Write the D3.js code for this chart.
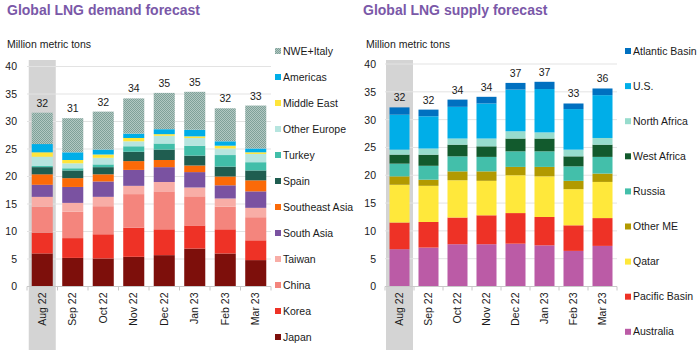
<!DOCTYPE html>
<html>
<head>
<meta charset="utf-8">
<script src="https://cdn.jsdelivr.net/npm/d3@7"></script>
<style>
  body { margin: 0; background: #fff; }
  svg { font-family: "Liberation Sans", Arial, sans-serif; }
</style>
</head>
<body>
<div id="container"></div>
<script>
/* DATA */
const months = ["Aug 22", "Sep 22", "Oct 22", "Nov 22", "Dec 22", "Jan 23", "Feb 23", "Mar 23"];
const yTicks = [0, 5, 10, 15, 20, 25, 30, 35, 40];

// demand series, bottom of stack first
const demandKeys = ["Japan", "Korea", "China", "Taiwan", "South Asia", "Southeast Asia",
  "Spain", "Turkey", "Other Europe", "Middle East", "Americas", "NWE+Italy"];
const japan       = [6.0, 5.2, 5.1, 5.4, 5.7, 6.9, 6.0, 4.8];
const korea       = [3.8, 3.6, 4.4, 5.3, 4.7, 4.2, 4.4, 3.6];
const china       = [4.7, 4.8, 5.1, 6.1, 6.9, 5.3, 4.1, 4.2];
const taiwan      = [1.8, 1.6, 1.7, 1.5, 1.7, 1.6, 1.5, 1.7];
const southAsia   = [2.2, 2.9, 2.8, 2.9, 2.7, 2.8, 2.4, 3.0];
const seAsia      = [1.9, 1.6, 1.3, 1.6, 1.3, 1.2, 1.6, 2.0];
const spain       = [1.3, 1.4, 1.3, 1.7, 1.9, 1.8, 1.8, 1.8];
const turkey      = [0.2, 0.4, 0.5, 1.0, 1.1, 1.8, 2.1, 1.5];
const otherEurope = [1.7, 0.9, 1.2, 0.9, 1.4, 1.4, 1.2, 1.5];
const middleEast  = [0.8, 0.6, 0.6, 0.6, 0.3, 0.3, 0.5, 0.3];
const americas    = [1.5, 1.4, 0.9, 0.8, 0.9, 1.2, 0.8, 0.7];
const nweItaly    = [5.7, 6.2, 6.9, 6.4, 6.6, 6.9, 6.0, 7.8];

// supply series, bottom of stack first
const supplyKeys = ["Australia", "Pacific Basin", "Qatar", "Other ME", "Russia",
  "West Africa", "North Africa", "U.S.", "Atlantic Basin"];
const australia     = [6.7, 7.0, 7.6, 7.6, 7.7, 7.4, 6.4, 7.3];
const pacificBasin  = [4.8, 4.6, 4.8, 5.2, 5.5, 5.1, 4.6, 5.0];
const qatar         = [6.8, 6.5, 6.7, 6.2, 6.8, 7.3, 6.5, 6.5];
const otherME       = [1.5, 1.1, 1.6, 1.7, 1.5, 1.7, 1.5, 1.5];
const russia        = [2.3, 2.5, 2.7, 2.6, 2.8, 2.8, 2.6, 3.0];
const westAfrica    = [1.6, 2.0, 2.1, 1.9, 2.3, 2.3, 1.8, 2.2];
const northAfrica   = [0.9, 1.1, 1.1, 1.4, 1.3, 1.1, 1.2, 1.2];
const us            = [6.3, 5.8, 5.7, 6.3, 7.5, 7.8, 7.3, 7.7];
const atlanticBasin = [1.3, 1.2, 1.3, 1.2, 1.2, 1.3, 1.0, 1.2];

/* CONSTANTS */
const width = 700, height = 350;

const demandColors = ["#7d0f0b", "#ee3226", "#f4857d", "#f8ada6", "#7a52a1", "#fb6a08",
  "#1f5d50", "#41bea9", "#b6e5df", "#ffe53b", "#00aee8", "url(#hatch)"];
const supplyColors = ["#bb5ba6", "#ee3226", "#ffe83b", "#b29a00", "#43bfaa",
  "#125a2d", "#97dccd", "#00aee8", "#0070c0"];

const svg = d3.select("#container")
  .append("svg")
  .attr("width", width)
  .attr("height", height)

// fine checker fill for NWE+Italy
const pat = svg.append("defs").append("pattern")
  .attr("id", "hatch")
  .attr("width", 2).attr("height", 2)
  .attr("patternUnits", "userSpaceOnUse")
pat.append("rect").attr("width", 2).attr("height", 2).attr("fill", "#b2c8c2")
pat.append("rect").attr("width", 1).attr("height", 1).attr("fill", "#7fa199")
pat.append("rect").attr("x", 1).attr("y", 1).attr("width", 1).attr("height", 1).attr("fill", "#7fa199")

function drawPanel(opt) {
  const table = months.map((m, i) => {
    const row = {month: m};
    opt.keys.forEach((k, j) => row[k] = opt.series[j][i]);
    return row;
  });
  const stacked = d3.stack().keys(opt.keys)(table);
  const totals = table.map((r, i) => d3.sum(opt.series, s => s[i]));

  /* SCALES */
  const xScale = d3.scaleBand()
    .domain(months)
    .range(opt.xRange)
    .paddingInner(0.31)
    .paddingOuter(0.155)

  const yScale = d3.scaleLinear()
    .domain([0, 40])
    .range(opt.yRange)

  const colorScale = d3.scaleOrdinal()
    .domain(opt.keys)
    .range(opt.colors)

  const g = svg.append("g")

  // title and unit
  g.append("text")
    .attr("x", opt.titleX).attr("y", 15)
    .attr("fill", "#7a58a8")
    .style("font-size", "14px").style("font-weight", "bold")
    .text(opt.title)

  g.append("text")
    .attr("x", opt.unitX).attr("y", 48)
    .attr("fill", "#1a1a1a")
    .style("font-size", "10.5px")
    .text("Million metric tons")

  // grey highlight behind the first month
  const hx = xScale(months[0]) + xScale.bandwidth() / 2;
  g.append("rect")
    .attr("x", hx - 13.5).attr("y", 60)
    .attr("width", 27).attr("height", height - 60)
    .attr("fill", "#d4d4d4")

  // gridlines
  g.append("g")
    .selectAll("line")
    .data(yTicks.filter(d => d > 0))
    .join("line")
    .attr("x1", opt.xRange[0]).attr("x2", opt.xRange[1])
    .attr("y1", d => yScale(d)).attr("y2", d => yScale(d))
    .attr("stroke", "#e3e3e3")

  // y labels
  g.append("g")
    .attr("transform", `translate(${opt.yLabelX}, 0)`)
    .call(d3.axisLeft(yScale).tickValues(yTicks).tickSize(0).tickPadding(0))
    .call(a => a.select(".domain").remove())
    .selectAll("text")
    .attr("fill", "#1a1a1a")
    .style("font-size", "10.5px")
    .style("font-family", "Liberation Sans, Arial, sans-serif")

  // bars
  g.append("g")
    .selectAll("g")
    .data(stacked)
    .join("g")
    .attr("fill", d => colorScale(d.key))
    .selectAll("rect")
    .data(d => d)
    .join("rect")
    .attr("x", d => xScale(d.data.month))
    .attr("y", d => yScale(d[1]))
    .attr("width", xScale.bandwidth())
    .attr("height", d => yScale(d[0]) - yScale(d[1]))

  // totals above bars
  g.append("g")
    .selectAll("text")
    .data(months)
    .join("text")
    .attr("x", d => xScale(d) + xScale.bandwidth() / 2)
    .attr("y", (d, i) => yScale(totals[i]) - 6)
    .attr("text-anchor", "middle")
    .attr("fill", "#1a1a1a")
    .style("font-size", "10.5px")
    .text((d, i) => d3.format(".0f")(totals[i]))

  // x axis line and ticks between months
  const y0 = yScale(0);
  g.append("line")
    .attr("x1", opt.xRange[0]).attr("x2", opt.xRange[1])
    .attr("y1", y0).attr("y2", y0)
    .attr("stroke", "#c8c8c8")
  const step = xScale.step();
  g.append("g")
    .selectAll("line")
    .data(d3.range(months.length + 1))
    .join("line")
    .attr("x1", i => opt.xRange[0] + i * step).attr("x2", i => opt.xRange[0] + i * step)
    .attr("y1", y0).attr("y2", y0 + 4)
    .attr("stroke", "#c8c8c8")

  g.append("g")
    .selectAll("text")
    .data(months)
    .join("text")
    .attr("transform", d => `translate(${xScale(d) + xScale.bandwidth() / 2}, ${y0 + 6})rotate(-90)`)
    .attr("text-anchor", "end")
    .attr("dy", "0.35em")
    .attr("fill", "#1a1a1a")
    .style("font-size", "10.5px")
    .text(d => d)

  // legend, top of stack first
  const legendKeys = opt.keys.slice().reverse();
  const lg = g.append("g")
    .selectAll("g")
    .data(legendKeys)
    .join("g")
    .attr("transform", (d, i) => `translate(${opt.legendX}, ${opt.legendY + i * opt.legendStep})`)
  lg.append("rect")
    .attr("x", 0).attr("y", -3)
    .attr("width", 6).attr("height", 6)
    .attr("fill", d => colorScale(d))
  lg.append("text")
    .attr("x", 8).attr("dy", "0.35em")
    .attr("fill", "#1a1a1a")
    .style("font-size", "10.5px")
    .text(d => d)
}

drawPanel({
  title: "Global LNG demand forecast",
  titleX: 7, unitX: 7, yLabelX: 17,
  keys: demandKeys,
  series: [japan, korea, china, taiwan, southAsia, seAsia, spain, turkey, otherEurope, middleEast, americas, nweItaly],
  colors: demandColors,
  xRange: [27, 271], yRange: [286.5, 66.5],
  legendX: 275, legendY: 51, legendStep: 26
})

drawPanel({
  title: "Global LNG supply forecast",
  titleX: 363, unitX: 366, yLabelX: 376,
  keys: supplyKeys,
  series: [australia, pacificBasin, qatar, otherME, russia, westAfrica, northAfrica, us, atlanticBasin],
  colors: supplyColors,
  xRange: [385, 617], yRange: [286.5, 64],
  legendX: 625, legendY: 51, legendStep: 35.1
})
</script>
</body>
</html>
